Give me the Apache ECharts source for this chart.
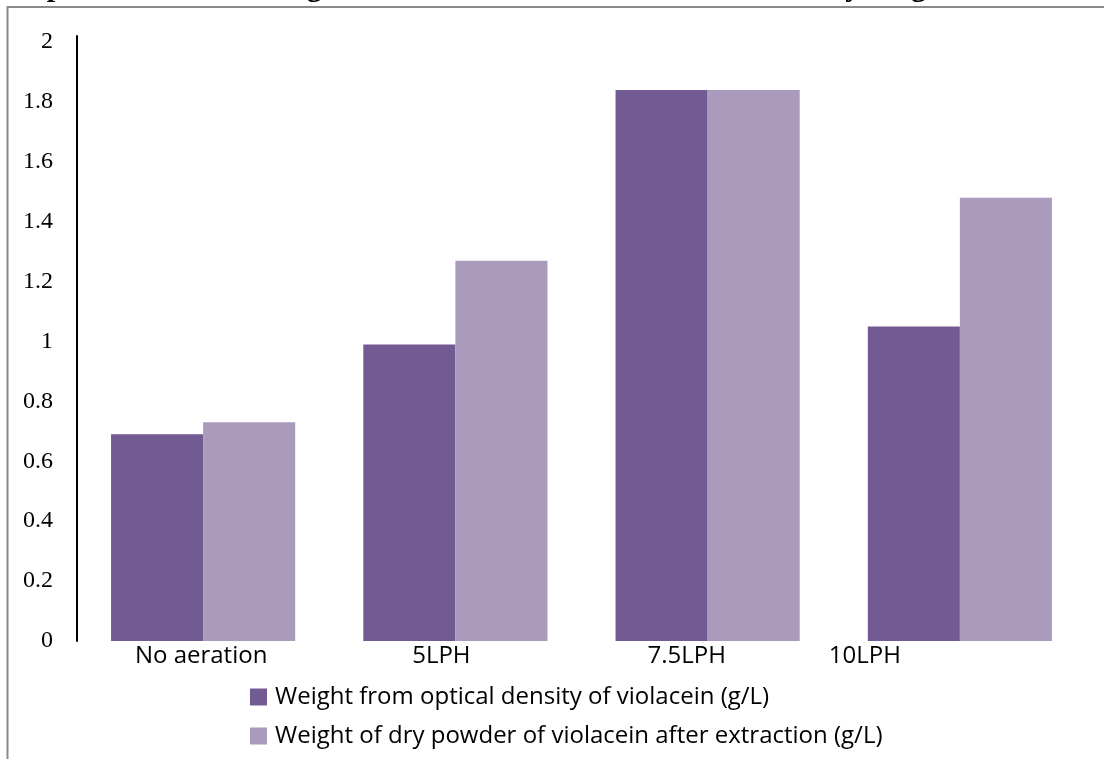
<!DOCTYPE html>
<html>
<head>
<meta charset="utf-8">
<script src="https://cdn.jsdelivr.net/npm/echarts@6/dist/echarts.min.js"></script>
<style>
html,body{margin:0;padding:0;background:#fff;}
#chart{width:1104px;height:759px;}
</style>
</head>
<body>
<div id="chart"></div>
<script>
const categories = ['No aeration', '5LPH', '7.5LPH', '10LPH'];
const seriesNames = [
  'Weight from optical density of violacein (g/L)',
  'Weight of dry powder of violacein after extraction (g/L)'
];
const opticalDensity = [0.69, 0.99, 1.84, 1.05];
const dryPowder = [0.73, 1.27, 1.84, 1.48];
const yTicks = [0, 0.2, 0.4, 0.6, 0.8, 1, 1.2, 1.4, 1.6, 1.8, 2];
const titleText = 'Comparison between weight of violacein obtained from OD with dry weight of violacein';

// label shifts (style only): how far each category label sits left of its bar group
const labelShiftLeft = [2, 14, 21, 95];

const chart = echarts.init(document.getElementById('chart'), null, {renderer: 'canvas'});

const option = {
  animation: false,
  backgroundColor: '#ffffff',
  graphic: [
    {
      type: 'text',
      left: -15,
      top: -27,
      style: {
        text: titleText,
        font: 'bold 30px "Liberation Serif"',
        fill: '#000'
      },
      silent: true
    },
    {
      type: 'rect',
      shape: {x: 7.5, y: 7, width: 1200, height: 800},
      style: {fill: 'none', stroke: '#8a8a8a', lineWidth: 2},
      silent: true
    }
  ],
  grid: {left: 77, right: 18, top: 36, bottom: 118, containLabel: false},
  legend: {
    orient: 'vertical',
    left: 250,
    top: 685,
    padding: 0,
    itemGap: 15,
    itemWidth: 17,
    itemHeight: 17,
    icon: 'rect',
    data: seriesNames,
    textStyle: {
      fontFamily: '"Open Sans"',
      fontSize: 24,
      lineHeight: 17,
      color: '#000',
      padding: [0, 0, 0, 3]
    }
  },
  xAxis: {
    type: 'category',
    data: categories.map((c, i) => ({
      value: c,
      textStyle: {padding: [0, labelShiftLeft[i] * 2, 0, 0]}
    })),
    axisLine: {show: false},
    axisTick: {show: false},
    axisLabel: {
      fontFamily: '"Open Sans"',
      fontSize: 24,
      lineHeight: 24,
      color: '#000',
      margin: 3,
      interval: 0
    }
  },
  yAxis: {
    type: 'value',
    min: 0,
    max: 2.02,
    interval: 0.2,
    splitLine: {show: false},
    axisTick: {show: false},
    axisLine: {show: true, lineStyle: {color: '#000', width: 2}},
    axisLabel: {
      fontFamily: '"Liberation Serif"',
      fontSize: 24,
      color: '#000',
      margin: 24,
      formatter: function (v) {
        const r = Number(v.toFixed(1));
        const hit = yTicks.some(t => Math.abs(t - v) < 1e-6);
        return hit ? String(r) : '';
      }
    }
  },
  series: [
    {
      name: seriesNames[0],
      type: 'bar',
      data: opticalDensity,
      barGap: '0%',
      barCategoryGap: '27%',
      itemStyle: {color: '#725A92'}
    },
    {
      name: seriesNames[1],
      type: 'bar',
      data: dryPowder,
      barGap: '0%',
      barCategoryGap: '27%',
      itemStyle: {color: '#AA9BBD'}
    }
  ]
};

chart.setOption(option);
</script>
</body>
</html>
